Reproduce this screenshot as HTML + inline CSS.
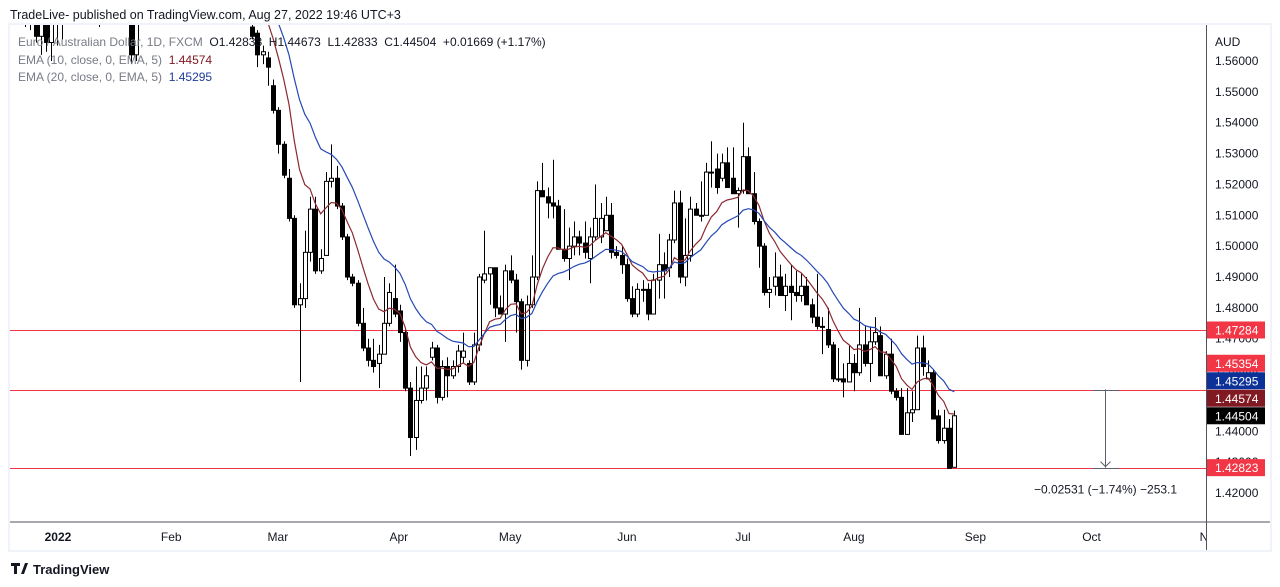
<!DOCTYPE html>
<html><head><meta charset="utf-8">
<style>
html,body{margin:0;padding:0;background:#fff;width:1280px;height:587px;overflow:hidden;font-family:"Liberation Sans",sans-serif;}
svg{position:absolute;left:0;top:0}
</style></head>
<body>
<svg id="chart" width="1280" height="587" viewBox="0 0 1280 587">
  <rect x="0" y="0" width="1280" height="587" fill="#ffffff"/>
  <text x="10" y="19" font-size="12.5" fill="#131722">TradeLive- published on TradingView.com, Aug 27, 2022 19:46 UTC+3</text>
  <rect x="8" y="23" width="1264" height="529" fill="#f0f3fa"/>
  <rect x="10" y="25" width="1260" height="525" fill="#ffffff"/>
  <defs><clipPath id="pane"><rect x="10" y="25" width="1196" height="497"/></clipPath>
  <clipPath id="taxis"><rect x="10" y="522" width="1196" height="28"/></clipPath></defs>
  <g id="pane-g" clip-path="url(#pane)"></g>
  <line x1="10" y1="522" x2="1270" y2="522" stroke="#50535e" stroke-width="1"/>
  <line x1="1206.5" y1="25" x2="1206.5" y2="550" stroke="#50535e" stroke-width="1"/>
  <g id="yaxis"></g>
  <g id="xaxis" clip-path="url(#taxis)"></g>
  <g id="legend">
    <text x="18" y="46" font-size="12" fill="#787b86">Euro / Australian Dollar, 1D, FXCM <tspan fill="#131722">&#160;O1.42833 &#160;H1.44673 &#160;L1.42833 &#160;C1.44504 &#160;+0.01669 (+1.17%)</tspan></text>
    <text x="18" y="64" font-size="12" fill="#787b86">EMA (10, close, 0, EMA, 5) <tspan fill="#801922">&#160;1.44574</tspan></text>
    <text x="18" y="81" font-size="12" fill="#787b86">EMA (20, close, 0, EMA, 5) <tspan fill="#1c3a9c">&#160;1.45295</tspan></text>
  </g>
  <text x="1215" y="46" font-size="12" fill="#131722">AUD</text>
  <g>
    <path d="M11 563h9v3h-3v8h-3v-8h-3z M21 574l4-11h3l-4 11z" fill="#131722"/>
    <text x="33" y="574" font-size="13" font-weight="bold" fill="#131722">TradingView</text>
  </g>
</svg>
<script>
const opens=[1.576,1.577,1.573,1.575,1.568,1.576,1.566,1.574,1.572,1.580,1.586,1.590,1.595,1.591,1.585,1.580,1.576,1.583,1.589,1.586,1.580,1.577,1.562,1.575,1.586,1.592,1.597,1.601,1.598,1.602,1.607,1.603,1.600,1.604,1.606,1.601,1.595,1.597,1.592,1.587,1.589,1.584,1.580,1.576,
1.571,1.569,1.562,1.561,1.552,1.544,1.533,1.522,1.509,1.481,1.483,1.498,1.512,1.492,1.497,1.521,1.522,1.513,1.503,1.490,1.488,1.475,1.467,1.463,1.462,1.465,1.475,1.483,1.479,1.472,1.454,1.438,1.450,1.454,1.464,1.467,1.451,1.461,1.458,1.461,1.464,1.462,1.456,1.468,1.489,1.491,1.493,1.480,1.478,1.492,1.489,1.482,1.463,1.481,1.490,
1.518,1.516,1.514,1.513,1.499,1.496,1.500,1.503,1.501,1.496,1.503,1.503,1.505,1.510,1.498,1.497,1.494,1.483,1.478,1.486,1.486,1.478,1.489,1.494,1.493,1.502,1.514,1.490,1.497,1.512,1.510,1.510,1.524,1.525,1.522,1.527,1.522,1.517,1.518,1.529,1.517,1.508,1.500,1.485,
1.487,1.490,1.484,1.487,1.485,1.484,1.487,1.481,1.477,1.474,1.473,1.468,1.457,1.457,1.456,1.462,1.459,1.468,1.462,1.469,1.471,1.458,1.465,1.453,1.451,1.439,1.446,1.447,1.467,1.457,1.459,1.445,1.437,1.441,1.42833];
const highs=[1.580,1.582,1.579,1.580,1.578,1.579,1.577,1.578,1.582,1.588,1.592,1.598,1.600,1.596,1.590,1.584,1.586,1.592,1.595,1.590,1.585,1.580,1.578,1.588,1.595,1.600,1.605,1.606,1.604,1.610,1.612,1.608,1.606,1.610,1.611,1.604,1.600,1.603,1.596,1.592,1.594,1.588,1.585,1.580,
1.572,1.570,1.565,1.563,1.554,1.545,1.534,1.525,1.510,1.488,1.505,1.516,1.516,1.499,1.524,1.533,1.526,1.514,1.504,1.491,1.489,1.480,1.470,1.470,1.468,1.490,1.488,1.494,1.481,1.473,1.456,1.461,1.461,1.461,1.469,1.468,1.463,1.464,1.463,1.468,1.472,1.463,1.472,1.491,1.505,1.493,1.493,1.484,1.494,1.497,1.491,1.483,1.484,1.497,1.521,
1.527,1.519,1.528,1.515,1.512,1.506,1.508,1.505,1.508,1.506,1.520,1.514,1.516,1.514,1.500,1.500,1.496,1.487,1.488,1.489,1.488,1.491,1.504,1.498,1.504,1.518,1.518,1.509,1.516,1.514,1.521,1.527,1.534,1.530,1.530,1.532,1.532,1.519,1.540,1.532,1.524,1.509,1.501,1.490,
1.498,1.494,1.491,1.494,1.492,1.491,1.490,1.483,1.491,1.477,1.480,1.469,1.467,1.462,1.468,1.465,1.480,1.474,1.474,1.477,1.474,1.466,1.470,1.454,1.454,1.454,1.453,1.471,1.471,1.463,1.460,1.447,1.447,1.444,1.44673];
const lows=[1.573,1.571,1.570,1.566,1.562,1.563,1.560,1.565,1.567,1.576,1.580,1.586,1.588,1.582,1.578,1.571,1.574,1.580,1.584,1.578,1.574,1.559,1.560,1.574,1.583,1.588,1.592,1.594,1.590,1.598,1.600,1.596,1.594,1.600,1.598,1.592,1.588,1.590,1.584,1.581,1.582,1.576,1.574,1.573,
1.567,1.558,1.559,1.552,1.543,1.530,1.522,1.508,1.480,1.456,1.480,1.495,1.491,1.491,1.497,1.519,1.512,1.502,1.489,1.487,1.474,1.466,1.461,1.459,1.454,1.465,1.474,1.477,1.469,1.453,1.432,1.434,1.449,1.450,1.463,1.449,1.450,1.451,1.457,1.459,1.462,1.455,1.455,1.466,1.488,1.481,1.477,1.478,1.469,1.488,1.472,1.460,1.461,1.480,1.489,
1.516,1.509,1.509,1.499,1.495,1.489,1.497,1.497,1.496,1.488,1.502,1.501,1.505,1.496,1.496,1.491,1.482,1.477,1.477,1.482,1.476,1.478,1.483,1.483,1.490,1.501,1.488,1.487,1.495,1.510,1.508,1.510,1.519,1.517,1.521,1.519,1.517,1.506,1.517,1.517,1.507,1.493,1.484,1.480,
1.484,1.484,1.479,1.476,1.482,1.482,1.481,1.475,1.473,1.465,1.467,1.456,1.456,1.451,1.456,1.453,1.458,1.461,1.456,1.468,1.458,1.457,1.452,1.450,1.439,1.439,1.443,1.447,1.458,1.457,1.444,1.436,1.436,1.428,1.42833];
const closes=[1.577,1.573,1.575,1.568,1.576,1.566,1.574,1.572,1.580,1.586,1.590,1.595,1.591,1.585,1.583,1.576,1.583,1.589,1.586,1.580,1.577,1.562,1.575,1.586,1.592,1.597,1.601,1.598,1.602,1.607,1.603,1.600,1.604,1.606,1.601,1.595,1.597,1.592,1.587,1.589,1.584,1.580,1.576,1.575,
1.568,1.562,1.563,1.558,1.544,1.533,1.523,1.509,1.481,1.483,1.498,1.512,1.492,1.496,1.521,1.522,1.513,1.503,1.490,1.488,1.475,1.467,1.463,1.461,1.465,1.475,1.485,1.478,1.472,1.454,1.438,1.450,1.454,1.458,1.467,1.451,1.461,1.458,1.461,1.466,1.466,1.456,1.468,1.490,1.491,1.493,1.480,1.478,1.492,1.489,1.482,1.463,1.481,1.490,1.518,
1.516,1.514,1.513,1.499,1.496,1.500,1.503,1.501,1.498,1.503,1.509,1.509,1.510,1.498,1.497,1.494,1.483,1.478,1.486,1.486,1.478,1.489,1.494,1.492,1.502,1.514,1.490,1.497,1.512,1.510,1.510,1.524,1.524,1.519,1.527,1.519,1.517,1.518,1.529,1.517,1.508,1.500,1.485,1.486,
1.490,1.484,1.487,1.485,1.484,1.487,1.481,1.477,1.474,1.474,1.468,1.457,1.457,1.456,1.462,1.459,1.468,1.462,1.469,1.472,1.458,1.465,1.453,1.451,1.439,1.446,1.447,1.467,1.461,1.459,1.444,1.437,1.441,1.428,1.44504];
const priceTicks=[1.56,1.55,1.54,1.53,1.52,1.51,1.50,1.49,1.48,1.47,1.46,1.45,1.44,1.43,1.42];
const monthLabels=["2022","Feb","Mar","Apr","May","Jun","Jul","Aug","Sep","Oct","Nov"];
const monthStartIdx=[7.25,28.7,48.9,71.8,92.9,115,137,158,181,203,225.5];
const hLevels=[1.47284,1.45354,1.42823];
const tagValues=[1.47284,1.45354,1.45295,1.44574,1.44504,1.42823];
const tagColors=["#f23645","#f23645","#0c3299","#801922","#000000","#f23645"];
const measureFrom=1.45354, measureTo=1.42823, measureIdx=205.5;

const NS="http://www.w3.org/2000/svg";
const X0=19.7, STEP=5.28;
function xs(i){return X0+i*STEP;}
function ys(p){return 61+(1.56-p)*3086;}
function mk(tag,attrs,parent){const e=document.createElementNS(NS,tag);for(const k in attrs)e.setAttribute(k,attrs[k]);parent.appendChild(e);return e;}
const pane=document.getElementById('pane-g');
const yax=document.getElementById('yaxis');
const xax=document.getElementById('xaxis');

hLevels.forEach((v,k)=>{
  const l=mk('line',{x1:10,x2:1206,y1:Math.round(ys(v))+0.5,y2:Math.round(ys(v))+0.5,stroke:'#f23645','stroke-width':1},pane);
  
  
});

for(let i=0;i<closes.length;i++){
  const x=xs(i), o=opens[i], c=closes[i], h=highs[i], lo=lows[i];
  const g=mk('g',{},pane);
  
  
  mk('line',{x1:Math.round(x)+0.5,x2:Math.round(x)+0.5,y1:ys(h),y2:ys(lo),stroke:'#000','stroke-width':1},g);
  const top=ys(Math.max(o,c)), bot=ys(Math.min(o,c));
  const up=c>=o;
  mk('rect',{x:Math.round(x)-1.5,y:top,width:4,height:Math.max(1,bot-top),fill:up?'#fff':'#000',stroke:'#000','stroke-width':1},g);
}

function ema(arr,n){const k=2/(n+1);let out=[],e=arr[0];for(let i=0;i<arr.length;i++){e=i?arr[i]*k+e*(1-k):arr[i];out.push(e);}return out;}
const ema10=ema(closes,10), ema20=ema(closes,20);
function pathOf(a){return a.map((v,i)=>(i?'L':'M')+xs(i).toFixed(1)+' '+ys(v).toFixed(1)).join(' ');}
const p10=mk('path',{d:pathOf(ema10),fill:'none',stroke:'#8b2a30','stroke-width':1.2},pane);


const p20=mk('path',{d:pathOf(ema20),fill:'none',stroke:'#2549b3','stroke-width':1.2},pane);



const mx=Math.round(xs(measureIdx))+0.5;
const mg=mk('g',{},pane);


mk('line',{x1:mx,x2:mx,y1:ys(measureFrom),y2:ys(measureTo),stroke:'#5d606b','stroke-width':1},mg);
mk('line',{x1:mx-13,x2:mx+13,y1:Math.round(ys(measureFrom))+0.5,y2:Math.round(ys(measureFrom))+0.5,stroke:'#5d606b','stroke-width':1},mg);
mk('line',{x1:mx-13,x2:mx+13,y1:Math.round(ys(measureTo))+0.5,y2:Math.round(ys(measureTo))+0.5,stroke:'#5d606b','stroke-width':1},mg);
mk('path',{d:`M${mx-5} ${ys(measureTo)-6} L${mx} ${ys(measureTo)-1} L${mx+5} ${ys(measureTo)-6}`,fill:'none',stroke:'#5d606b','stroke-width':1},mg);
const mt=mk('text',{x:mx,y:ys(measureTo)+26,'font-size':12,fill:'#131722','text-anchor':'middle'},mg);
mt.textContent='\u22120.02531 (\u22121.74%) \u2212253.1';



priceTicks.forEach(v=>{
  const t=mk('text',{x:1215,y:ys(v)+4,'font-size':12,fill:'#131722'},yax);
  t.textContent=v.toFixed(5);
  
  
});
// price tags, stacked upward to avoid overlap (as TradingView does)
const order=tagValues.map((v,k)=>k).sort((a,b)=>tagValues[a]-tagValues[b]);
let prevY=1e9;
const tagY={};
order.forEach(k=>{let y=ys(tagValues[k]);if(y>prevY-17.5)y=prevY-17.5;tagY[k]=y;prevY=y;});
tagValues.forEach((v,k)=>{
  const y=tagY[k];
  const g=mk('g',{},yax);
  
  
  mk('rect',{x:1207,y:y-8.5,width:58,height:17,fill:tagColors[k]},g);
  const t=mk('text',{x:1215,y:y+4.5,'font-size':12,fill:'#fff'},g);
  t.textContent=v.toFixed(5);
});

monthLabels.forEach((m,k)=>{
  const t=mk('text',{x:xs(monthStartIdx[k]),y:541,'font-size':12,fill:'#131722','text-anchor':'middle','font-weight':k===0?'bold':'normal'},xax);
  t.textContent=m;
  
  
});
</script>
</body></html>
